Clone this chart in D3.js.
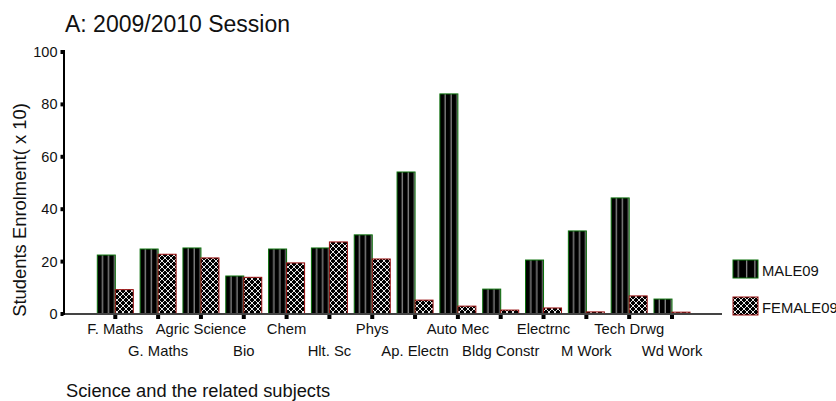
<!DOCTYPE html>
<html><head><meta charset="utf-8">
<script src="https://cdn.jsdelivr.net/npm/d3@7"></script>
<style>body{margin:0;background:#fff}svg{display:block;font-family:"Liberation Sans",Arial,sans-serif}</style>
</head><body><svg id="c" width="836" height="401"></svg>
<script>
const categories = ["F. Maths","G. Maths","Agric Science","Bio","Chem","Hlt. Sc","Phys","Ap. Electn","Auto Mec","Bldg Constr","Electrnc","M Work","Tech Drwg","Wd Work"];
const male09   = [22.5,24.8,25.2,14.5,24.8,25.2,30.2,54.2,84,9.5,20.6,31.7,44.3,5.7];
const female09 = [9.3,22.8,21.4,14,19.5,27.5,21,5.3,3,1.5,2.3,0.8,6.9,0.7];
const yTicks = [0,20,40,60,80,100];
const seriesNames = ["MALE09","FEMALE09"];

const svg = d3.select("#c");
const defs = svg.append("defs");
const pm = defs.append("pattern").attr("id","pm").attr("patternUnits","objectBoundingBox").attr("width",1/3).attr("height",1);
pm.append("rect").attr("width",10).attr("height",400).attr("fill","#000");
pm.append("rect").attr("x",4.6).attr("width",1.3).attr("height",400).attr("fill","#8c8c8c");
const pf = defs.append("pattern").attr("id","pf").attr("patternUnits","userSpaceOnUse").attr("width",6).attr("height",6);
pf.append("rect").attr("width",6).attr("height",6).attr("fill","#000");
pf.append("path").attr("d","M0,3 Q1.5,1.5 3,0 Q4.5,1.5 6,3 Q4.5,4.5 3,6 Q1.5,4.5 0,3 Z").attr("fill","none").attr("stroke","#fff").attr("stroke-width",0.9);

const x = d3.scalePoint().domain(categories).range([115.3,672]);
const y = d3.scaleLinear().domain([0,100]).range([314,52]);
const bw = 18;

// bars
const g = svg.append("g");
g.selectAll(".m").data(categories).join("rect")
 .attr("x",d=>x(d)-bw).attr("y",(d,i)=>y(male09[i])).attr("width",bw).attr("height",(d,i)=>y(0)-y(male09[i]))
 .attr("fill","url(#pm)").attr("stroke","#0a700a").attr("stroke-width",1);
g.selectAll(".f").data(categories).join("rect")
 .attr("x",d=>x(d)).attr("y",(d,i)=>y(female09[i])).attr("width",bw).attr("height",(d,i)=>y(0)-y(female09[i]))
 .attr("fill","url(#pf)").attr("stroke","#9a1010").attr("stroke-width",1);

// x axis line
svg.append("line").attr("x1",64).attr("x2",722).attr("y1",y(0)).attr("y2",y(0)).attr("stroke","#444").attr("stroke-width",2);
// x ticks
svg.selectAll(".xt").data(categories).join("rect").attr("x",d=>x(d)-2).attr("y",y(0)+1).attr("width",4).attr("height",4).attr("fill","#000");
svg.selectAll(".xl").data(categories).join("text")
 .attr("x",d=>x(d)).attr("y",(d,i)=>i%2===0?334:356).attr("text-anchor","middle")
 .attr("font-size",14.8).attr("fill","#111").text(d=>d);

// y axis
svg.append("line").attr("x1",64).attr("x2",64).attr("y1",y(100)-2).attr("y2",y(0)+1).attr("stroke","#000").attr("stroke-width",2);
svg.selectAll(".yt").data(yTicks).join("rect").attr("x",60.5).attr("y",d=>y(d)-2).attr("width",3).attr("height",4).attr("fill","#000");
svg.selectAll(".yl").data(yTicks).join("text")
 .attr("x",57.5).attr("y",d=>y(d)+5).attr("text-anchor","end").attr("font-size",14.5).attr("fill","#111").text(d=>d);

// titles
svg.append("text").attr("x",65).attr("y",32).attr("font-size",23).attr("fill","#111").text("A: 2009/2010 Session");
svg.append("text").attr("transform","translate(26,210) rotate(-90)").attr("text-anchor","middle").attr("font-size",18.4).attr("fill","#111").text("Students Enrolment( x 10)");
svg.append("text").attr("x",66).attr("y",397).attr("font-size",18.3).attr("fill","#111").text("Science and the related subjects");

// legend
const leg = [{n:seriesNames[0],f:"url(#pm)",s:"#0a700a",y:260},{n:seriesNames[1],f:"url(#pf)",s:"#9a1010",y:297}];
leg.forEach(l=>{
  svg.append("rect").attr("x",733).attr("y",l.y).attr("width",25).attr("height",18).attr("fill",l.f).attr("stroke",l.s).attr("stroke-width",1);
  svg.append("text").attr("x",762).attr("y",l.y+16).attr("font-size",14.8).attr("fill","#111").text(l.n);
});
</script></body></html>
